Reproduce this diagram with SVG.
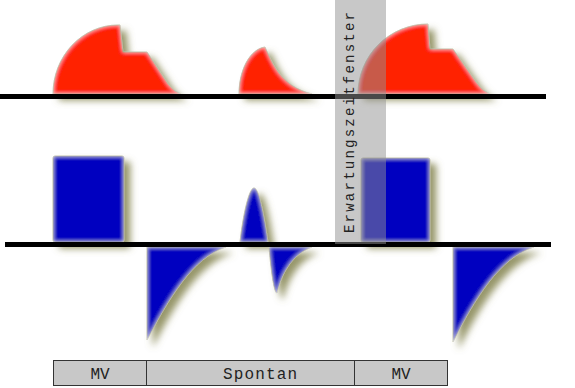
<svg xmlns="http://www.w3.org/2000/svg" width="575" height="388" viewBox="0 0 575 388">
<defs>
<filter id="fx" x="-30%" y="-30%" width="170%" height="170%">
<feGaussianBlur in="SourceAlpha" stdDeviation="3.5" result="b"/>
<feOffset in="b" dx="6" dy="6" result="o"/>
<feFlood flood-color="#7d7d45" flood-opacity="0.8"/>
<feComposite in2="o" operator="in" result="shadow"/>
<feGaussianBlur in="SourceAlpha" stdDeviation="2" result="ib"/>
<feComposite in="SourceAlpha" in2="ib" operator="out" result="edge"/>
<feFlood flood-color="#ffffff" flood-opacity="0.7"/>
<feComposite in2="edge" operator="in" result="glow"/>
<feMerge><feMergeNode in="shadow"/><feMergeNode in="SourceGraphic"/><feMergeNode in="glow"/></feMerge>
</filter>
<style>
.red{fill:#ff2000;stroke:#9a9a66;stroke-width:0.8;filter:url(#fx)}
.blue{fill:#0000c0;stroke:#9a9a66;stroke-width:0.8;filter:url(#fx)}
.axis{stroke:#000;stroke-width:5}
.lbl{fill:#c8c8c8;stroke:#333;stroke-width:1}
.t{font-family:"Liberation Mono","Courier New",monospace;fill:#222}
</style>
</defs>
<rect width="575" height="388" fill="#fff"/>
<g id="pressure">
<path class="red" d="M53,94 A65,69 0 0 1 118,25 L120,25 L123,52 L147,52 L168,84 Q174,92 181,94 Z"/>
<path class="red" d="M239,94 C239,70 250,49 265,47 C272,62 280,86 312,94 Z"/>
<path class="red" d="M358,94 A70,70 0 0 1 428,24 L430,49 L453,49 L476,82 Q482,91 490,94 Z"/>
</g>
<g id="flow">
<rect class="blue" x="53" y="156" width="71" height="86" rx="2"/>
<path class="blue" d="M147,247 L147,340 C168,300 193,257 226,247 Z"/>
<path class="blue" d="M240,242 C243,215 249,188 254,188 C259,188 264,215 268,242 Z"/>
<path class="blue" d="M269,247 C271,270 274,293 277,293 C281,275 292,254 312,247 Z"/>
<rect class="blue" x="361" y="158" width="69" height="84" rx="2"/>
<path class="blue" d="M453,247 L453,342 C474,300 500,257 534,247 Z"/>
</g>
<g id="axes">
<line class="axis" x1="0" y1="96.5" x2="546" y2="96.5"/>
<line class="axis" x1="5" y1="244.5" x2="551" y2="244.5"/>
</g>
<g id="window">
<rect x="335" y="0" width="51" height="244" fill="#919191" fill-opacity="0.5"/>
<text class="t" font-size="14" transform="translate(354,233) rotate(-90)" textLength="221" lengthAdjust="spacing">Erwartungszeitfenster</text>
</g>
<g id="labels">
<rect class="lbl" x="53.5" y="360.5" width="93" height="25"/>
<rect class="lbl" x="146.5" y="360.5" width="208" height="25"/>
<rect class="lbl" x="354.5" y="360.5" width="93" height="25"/>
<text class="t" font-size="16" x="100" y="379" text-anchor="middle">MV</text>
<text class="t" font-size="16" x="223" y="379" textLength="74" lengthAdjust="spacing">Spontan</text>
<text class="t" font-size="16" x="401" y="379" text-anchor="middle">MV</text>
</g>
</svg>
